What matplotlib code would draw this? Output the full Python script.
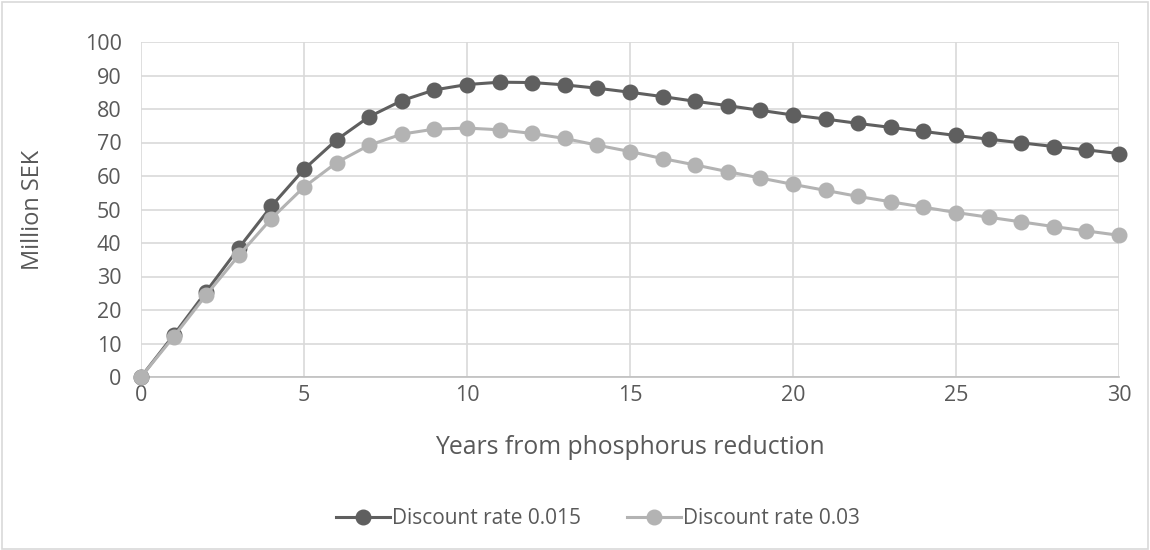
import matplotlib.pyplot as plt
from matplotlib.patches import Rectangle

years = list(range(0, 31))
rate_015 = [0, 12.5, 25.5, 38.5, 51, 62, 70.8, 77.7, 82.5, 85.7, 87.3, 88, 87.9, 87.2, 86.2, 85,
            83.7, 82.3, 81, 79.6, 78.2, 77, 75.7, 74.5, 73.3, 72.1, 71, 69.9, 68.8, 67.8, 66.7]
rate_03 = [0, 12, 24.5, 36.3, 47.3, 56.7, 64, 69.2, 72.5, 74, 74.3, 73.8, 72.7, 71.2, 69.2, 67.3,
           65.2, 63.3, 61.3, 59.4, 57.5, 55.7, 53.9, 52.3, 50.7, 49.1, 47.7, 46.3, 44.9, 43.6, 42.3]
labels = ['Discount rate 0.015', 'Discount rate 0.03']

plt.rcParams['font.family'] = ['Open Sans', 'DejaVu Sans']
txt = '#595959'
grid = '#d9d9d9'

fig = plt.figure(figsize=(11.5, 5.5), dpi=100)
ax = fig.add_axes([141/1150, 1 - 377/550, (1119-141)/1150, (377-42)/550])

ax.plot(years, rate_015, color='#5f5f5f', lw=2.2, marker='o', ms=10.5, label=labels[0], zorder=3, clip_on=False)
ax.plot(years, rate_03, color='#b3b3b3', lw=2.2, marker='o', ms=10.5, label=labels[1], zorder=3, clip_on=False)

ax.set_xlim(0, 30)
ax.set_ylim(0, 100)
ax.set_xticks(range(0, 31, 5))
ax.set_yticks(range(0, 101, 10))
ax.grid(True, color=grid, lw=1.2)
ax.set_axisbelow(True)
for s in ['top', 'right', 'left']:
    ax.spines[s].set_visible(False)
ax.spines['bottom'].set_color('#bfbfbf')
ax.spines['bottom'].set_linewidth(1.2)
ax.tick_params(length=0, colors=txt, labelsize=15.5)
ax.tick_params(axis='y', pad=14)
ax.tick_params(axis='x', pad=6)
ax.set_xlabel('Years from phosphorus reduction', color=txt, fontsize=17.8, va='center')
ax.set_ylabel('Million SEK', color=txt, fontsize=17, va='center')
ax.xaxis.set_label_coords(0.5, (377 - 447) / 335)
ax.yaxis.set_label_coords((33 - 141) / 978, 0.5)

leg = fig.legend(loc='center', bbox_to_anchor=(598/1150, 1 - 519/550), ncol=2, frameon=False,
                 fontsize=15, handlelength=2.6, columnspacing=2.2, handletextpad=0.1)
for t in leg.get_texts():
    t.set_color(txt)

fig.patches.append(Rectangle((0.002, 0.002), 0.996, 0.994, transform=fig.transFigure,
                             fill=False, edgecolor='#d9d9d9', lw=1.2))

fig.savefig('out.png', dpi=100)
